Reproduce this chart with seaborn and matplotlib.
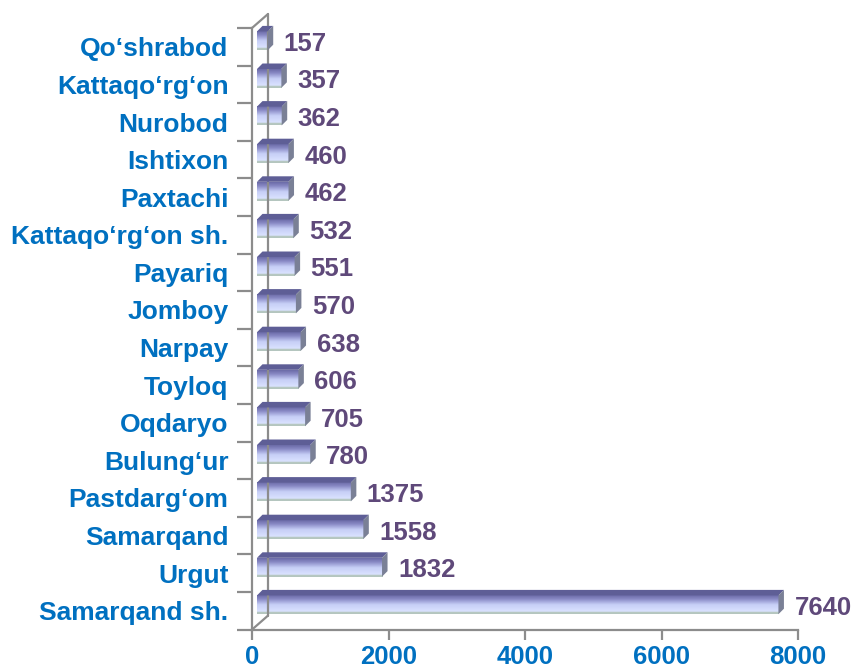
import numpy as np
import pandas as pd
import matplotlib
matplotlib.use("Agg")
import matplotlib.pyplot as plt
import seaborn as sns
from matplotlib.transforms import ScaledTranslation, IdentityTransform
from matplotlib.patches import Polygon
from matplotlib.lines import Line2D
from matplotlib.colors import LinearSegmentedColormap

regions = ["Qo‘shrabod", "Kattaqo‘rg‘on", "Nurobod", "Ishtixon", "Paxtachi",
           "Kattaqo‘rg‘on sh.", "Payariq", "Jomboy", "Narpay", "Toyloq",
           "Oqdaryo", "Bulung‘ur", "Pastdarg‘om", "Samarqand", "Urgut",
           "Samarqand sh."]
values = [157, 357, 362, 460, 462, 532, 551, 570, 638, 606, 705, 780, 1375,
          1558, 1832, 7640]
xticks = [0, 2000, 4000, 6000, 8000]

BLUE = "#0070c0"
PURPLE = "#5f497a"
GRAY = "#8c8c8c"

sns.set_theme(style="white")
plt.rcParams["font.family"] = ["Liberation Sans", "DejaVu Sans"]
plt.rcParams["font.weight"] = "bold"

W, H = 855, 671
fig = plt.figure(figsize=(W / 100, H / 100), dpi=100)
y_bot_px, y_top_px = 629.6, 28.0
x0_px, x1_px = 252.0, 798.0
ax = fig.add_axes([x0_px / W, (H - y_bot_px) / H, (x1_px - x0_px) / W,
                   (y_bot_px - y_top_px) / H])

df = pd.DataFrame({"region": regions, "value": values})
sns.barplot(data=df, x="value", y="region", orient="h", width=0.5,
            color="#dde4ff", edgecolor="none", linewidth=0, ax=ax,
            saturation=1, zorder=2)
ax.set_xlim(0, 8000)
ax.set_ylim(15.5, -0.5)

for s in ["top", "right"]:
    ax.spines[s].set_visible(False)
for s in ["left", "bottom"]:
    ax.spines[s].set_color(GRAY)
    ax.spines[s].set_linewidth(1.6)

# ticks
ax.set_xticks(xticks)
ax.set_xticklabels([str(t) for t in xticks], color=BLUE, fontsize=18.5,
                   fontweight="bold")
ax.tick_params(axis="x", which="major", length=7, width=1.6, color=GRAY,
               pad=4, bottom=True)
ax.set_yticks(range(len(regions)))
ax.set_yticklabels(regions, color=BLUE, fontsize=19, fontweight="bold")
ax.tick_params(axis="y", which="major", length=0, pad=17, left=True)
ax.set_yticks(np.arange(-0.5, len(regions), 1.0), minor=True)
ax.tick_params(axis="y", which="minor", length=11, width=1.6, color=GRAY,
               left=True)
ax.set_xlabel("")
ax.set_ylabel("")
ax.grid(False)

fig.canvas.draw()
dpi = fig.dpi
off = ScaledTranslation(5 / dpi, 6 / dpi, fig.dpi_scale_trans)
trans_off = ax.transData + off

cmap = LinearSegmentedColormap.from_list(
    "bar", [(0.0, "#6c6ca8"), (0.2, "#8888c4"), (0.5, "#c6cef6"),
            (0.88, "#dbe3ff"), (0.9, "#b5c6bf"), (1.0, "#b5c6bf")])
grad = np.linspace(0, 1, 64).reshape(-1, 1)
DX, DY = 5.5, 5.5  # bar depth in px

for p in list(ax.patches):
    p.set_transform(trans_off)
    bx, by, bw, bh = p.get_x(), p.get_y(), p.get_width(), p.get_height()
    ax.imshow(grad, extent=[bx, bx + bw, by + bh, by], aspect="auto",
              cmap=cmap, transform=trans_off, zorder=3,
              interpolation="bilinear")
    (lx, ty) = trans_off.transform((bx, by))
    (rx, byy) = trans_off.transform((bx + bw, by + bh))
    top = Polygon([(lx, ty), (rx, ty), (rx + DX, ty + DY), (lx + DX, ty + DY)],
                  closed=True, transform=IdentityTransform(),
                  facecolor="#5e5e96", edgecolor="none", zorder=4)
    side = Polygon([(rx, ty), (rx + DX, ty + DY), (rx + DX, byy + DY),
                    (rx, byy)], closed=True, transform=IdentityTransform(),
                   facecolor="#7a8096", edgecolor="none", zorder=4)
    fig.add_artist(top)
    fig.add_artist(side)

ax.set_xlim(0, 8000)
ax.set_ylim(15.5, -0.5)

# value labels
loff = ax.transData + ScaledTranslation(21 / dpi, 3 / dpi, fig.dpi_scale_trans)
for i, v in enumerate(values):
    ax.text(v, i, str(v), transform=loff, ha="left", va="center",
            color=PURPLE, fontsize=18.5, fontweight="bold", zorder=5)

# back wall lines (3D frame)
WX, WY = 16, 14
(fx0, fyb) = ax.transData.transform((0, 15.5))
(_, fyt) = ax.transData.transform((0, -0.5))
lines = [
    [(fx0, fyt), (fx0 + WX, fyt + WY)],
    [(fx0 + WX, fyt + WY), (fx0 + WX, fyb + WY)],
    [(fx0, fyb), (fx0 + WX, fyb + WY)],
]
for ln in lines:
    xs, ys = zip(*ln)
    fig.add_artist(Line2D(xs, ys, transform=IdentityTransform(), color=GRAY,
                          linewidth=1.6, zorder=1))

fig.savefig("out.png", dpi=100, facecolor="white")
